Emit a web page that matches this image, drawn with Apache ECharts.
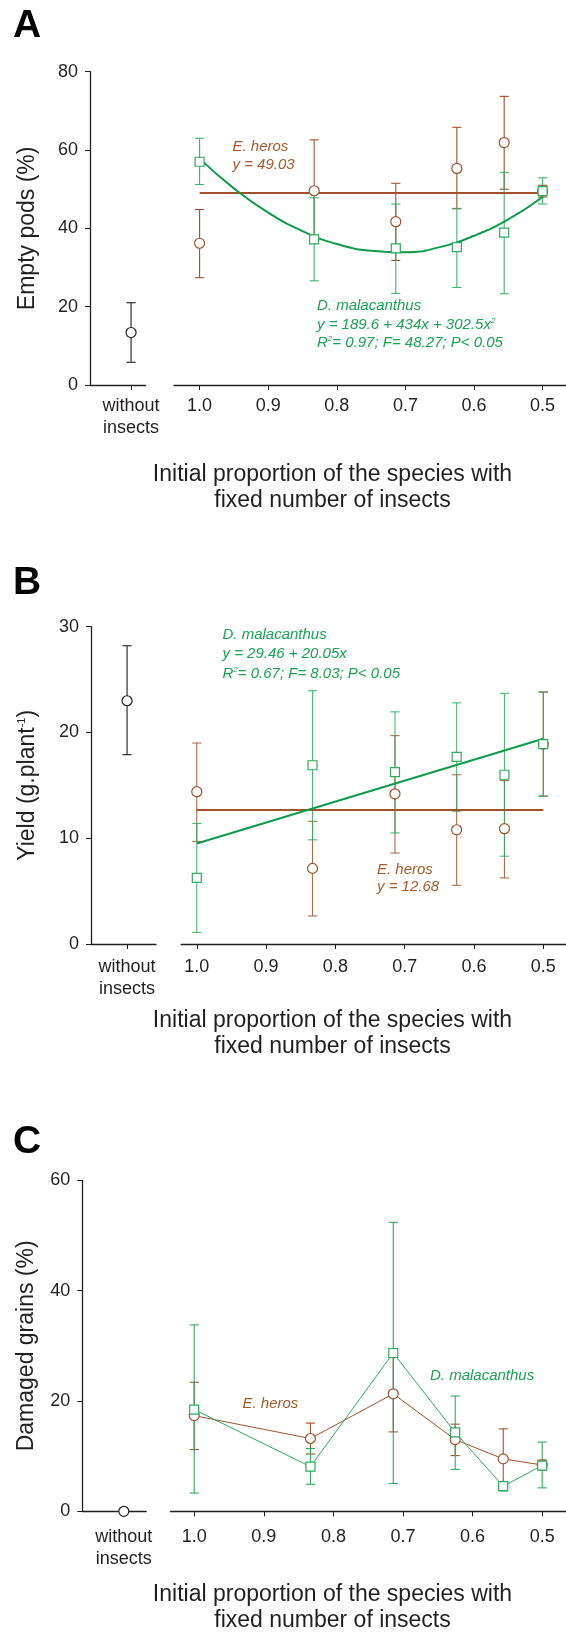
<!DOCTYPE html>
<html>
<head>
<meta charset="utf-8">
<script src="https://cdn.jsdelivr.net/npm/echarts@6/dist/echarts.min.js"></script>
<style>
html,body{margin:0;padding:0;background:#fff;}
#chart{width:566px;height:1632px;}
</style>
</head>
<body>
<div id="chart"></div>
<script>
// ---------------- DATA ----------------
const proportions = [1.0, 0.833, 0.714, 0.625, 0.556, 0.5];
const xTickValues = [1.0, 0.9, 0.8, 0.7, 0.6, 0.5];
const withoutLabel = 'without\ninsects';

// Panel A: Empty pods (%)
const podsWithout = [13.4], podsWithoutLo = [5.8], podsWithoutHi = [21.0];
const podsHeros   = [36.2, 49.6, 41.7, 55.3, 61.9, 49.5];
const podsHerosLo = [27.4, 36.6, 31.8, 45.0, 50.0, 48.0];
const podsHerosHi = [44.8, 62.6, 51.5, 65.8, 73.7, 51.0];
const podsMala    = [57.0, 37.2, 34.9, 35.2, 38.9, 49.5];
const podsMalaLo  = [51.2, 26.6, 23.4, 24.9, 23.3, 46.2];
const podsMalaHi  = [63.0, 47.8, 46.2, 45.1, 54.3, 52.9];
const podsHerosFit = 49.03;
const podsMalaFitX = [1.0, 0.95, 0.9, 0.85, 0.8, 0.75, 0.7, 0.65, 0.6, 0.55, 0.5];
const podsMalaFitY = [57.8, 50.2, 44.0, 39.3, 36.0, 34.3, 33.9, 35.2, 38.1, 42.3, 48.0];

// Panel B: Yield (g.plant-1)
const yieldWithout = [23.0], yieldWithoutLo = [17.9], yieldWithoutHi = [28.2];
const yieldHeros   = [14.4, 7.15, 14.2, 10.8, 10.9, 18.9];
const yieldHerosLo = [9.7, 2.65, 8.6, 5.55, 6.25, 14.0];
const yieldHerosHi = [19.0, 11.6, 19.7, 16.0, 15.45, 23.8];
const yieldMala    = [6.25, 16.9, 16.25, 17.7, 16.0, 18.9];
const yieldMalaLo  = [1.1, 9.85, 10.5, 12.55, 8.3, 13.95];
const yieldMalaHi  = [11.4, 23.95, 21.95, 22.8, 23.7, 23.85];
const yieldHerosFit = 12.68;
const yieldMalaFitX = [1.0, 0.5];
const yieldMalaFitY = [9.5, 19.4];

// Panel C: Damaged grains (%)
const grainsWithout = [0];
const grainsHeros   = [17.35, 13.2, 21.3, 13.0, 9.5, 8.4];
const grainsHerosLo = [11.2, 10.4, 14.4, 10.1, 4.5, 7.5];
const grainsHerosHi = [23.4, 16.0, 28.2, 15.8, 14.95, 9.3];
const grainsMala    = [18.45, 8.1, 28.7, 14.3, 4.55, 8.3];
const grainsMalaLo  = [3.3, 4.9, 5.05, 7.6, 3.7, 4.25];
const grainsMalaHi  = [33.8, 11.4, 52.4, 20.9, 5.2, 12.55];

// Text
const yNameA = 'Empty pods (%)';
const yNameB = '{a|Yield (g.plant}{s|-1}{a|)}';
const yNameC = 'Damaged grains (%)';
const xTitle1 = 'Initial proportion of the species with';
const xTitle2 = 'fixed number of insects';

// ---------------- STYLE ----------------
const FONT = '"Liberation Sans", Arial, Helvetica, sans-serif';
const INK = '#231f20';
const BROWN = '#a0522d';
const BROWN_TXT = '#a65a2c';
const GREEN = '#0f9b4c';
const GREEN_MK = '#2eab5f';
const GREEN_TXT = '#1aa253';

const panels = [
  { key:'A', top:71.7, h:313.3, yMax:80, yInt:20, lx:90, lw:55.5, lmin:-0.74, lmax:0.26,
    rx:174, rmin:0.4659, rmax:1.0373, lblMargin:10, nameGap:51, yName:yNameA },
  { key:'B', top:626.7, h:317.3, yMax:30, yInt:10, lx:91, lw:65, lmin:-0.555, lmax:0.445,
    rx:181.2, rmin:0.4672, rmax:1.0225, lblMargin:12.5, nameGap:52, yName:yNameB },
  { key:'C', top:1180.4, h:330.9, yMax:60, yInt:20, lx:82.3, lw:63.9, lmin:-0.65, lmax:0.35,
    rx:170.4, rmin:0.4658, rmax:1.0342, lblMargin:15, nameGap:44, yName:yNameC }
];

const grids = [], xAxes = [], yAxes = [];
panels.forEach((p, i) => {
  grids.push({ left:p.lx, top:p.top, width:p.lw, height:p.h, containLabel:false, outerBoundsMode:'none' });
  grids.push({ left:p.rx, top:p.top, width:566 - p.rx, height:p.h, containLabel:false, outerBoundsMode:'none' });
  const lblStyle = { fontFamily:FONT, fontSize:18, color:INK, lineHeight:22, margin:p.lblMargin };
  xAxes.push({
    type:'value', gridIndex:2*i, min:p.lmin, max:p.lmax,
    axisLine:{ show:true, onZero:false, lineStyle:{ color:INK, width:1.3 } },
    axisTick:{ show:true, length:5, customValues:[0], lineStyle:{ color:INK, width:1 } },
    axisLabel:Object.assign({ customValues:[0], formatter:() => withoutLabel }, lblStyle),
    splitLine:{ show:false }
  });
  xAxes.push({
    type:'value', gridIndex:2*i+1, min:p.rmin, max:p.rmax, inverse:true,
    axisLine:{ show:true, onZero:false, lineStyle:{ color:INK, width:1.3 } },
    axisTick:{ show:true, length:5, customValues:xTickValues, lineStyle:{ color:INK, width:1 } },
    axisLabel:Object.assign({ customValues:xTickValues, formatter:v => Number(v).toFixed(1) }, lblStyle),
    splitLine:{ show:false }
  });
  yAxes.push({
    type:'value', gridIndex:2*i, min:0, max:p.yMax, interval:p.yInt,
    axisLine:{ show:true, onZero:false, lineStyle:{ color:INK, width:1.3 } },
    axisTick:{ show:true, length:5, lineStyle:{ color:INK, width:1 } },
    axisLabel:{ fontFamily:FONT, fontSize:18, color:INK, margin:12 },
    splitLine:{ show:false },
    name:p.yName, nameLocation:'middle', nameRotate:90, nameGap:p.nameGap,
    nameTextStyle:{ fontFamily:FONT, fontSize:23, color:INK,
      rich:{ a:{ fontFamily:FONT, fontSize:23, color:INK }, s:{ fontFamily:FONT, fontSize:11, color:INK, verticalAlign:'top' } } }
  });
  yAxes.push({ type:'value', gridIndex:2*i+1, min:0, max:p.yMax, show:false });
});

function triples(xs, lo, hi) { return xs.map((x, k) => [x, lo[k], hi[k]]); }
function pairs(xs, ys) { return xs.map((x, k) => [x, ys[k]]); }

function errBars(ai, data, color, opacity) {
  return {
    type:'custom', xAxisIndex:ai, yAxisIndex:ai, data:data, clip:false, z:2,
    encode:{ x:0, y:[1,2] }, silent:true,
    renderItem:function(params, api) {
      const x = api.value(0);
      const a = api.coord([x, api.value(1)]);
      const b = api.coord([x, api.value(2)]);
      const st = { stroke:color, lineWidth:1.1, opacity:opacity };
      const c = 4.6;
      return { type:'group', children:[
        { type:'line', shape:{ x1:a[0], y1:a[1], x2:b[0], y2:b[1] }, style:st },
        { type:'line', shape:{ x1:a[0]-c, y1:a[1], x2:a[0]+c, y2:a[1] }, style:st },
        { type:'line', shape:{ x1:b[0]-c, y1:b[1], x2:b[0]+c, y2:b[1] }, style:st }
      ]};
    }
  };
}
function markers(ai, data, symbol, size, color) {
  return { type:'scatter', xAxisIndex:ai, yAxisIndex:ai, data:data, symbol:symbol, symbolSize:size, z:5,
    itemStyle:{ color:'#fff', borderColor:color, borderWidth:1.2, opacity:1 }, silent:true };
}
function fitLine(ai, data, color, width, smooth) {
  return { type:'line', xAxisIndex:ai, yAxisIndex:ai, data:data, showSymbol:false, symbol:'none',
    smooth:smooth ? 0.5 : false, lineStyle:{ color:color, width:width }, z:3, silent:true };
}

const series = [];
// Panel A
series.push(errBars(0, triples([0], podsWithoutLo, podsWithoutHi), INK, 1));
series.push(markers(0, pairs([0], podsWithout), 'circle', 10, INK));
series.push(errBars(1, triples(proportions, podsHerosLo, podsHerosHi), BROWN, 1));
series.push(errBars(1, triples(proportions, podsMalaLo, podsMalaHi), GREEN_MK, 0.9));
series.push(fitLine(1, [[proportions[0], podsHerosFit], [proportions[5], podsHerosFit]], BROWN, 2, false));
series.push(fitLine(1, pairs(podsMalaFitX, podsMalaFitY), GREEN, 2, true));
series.push(markers(1, pairs(proportions, podsHeros), 'circle', 10, BROWN));
series.push(markers(1, pairs(proportions, podsMala), 'rect', 9, GREEN_MK));
// Panel B
series.push(errBars(2, triples([0], yieldWithoutLo, yieldWithoutHi), INK, 1));
series.push(markers(2, pairs([0], yieldWithout), 'circle', 10, INK));
series.push(errBars(3, triples(proportions, yieldHerosLo, yieldHerosHi), BROWN, 0.85));
series.push(errBars(3, triples(proportions, yieldMalaLo, yieldMalaHi), GREEN_MK, 0.85));
series.push(fitLine(3, [[proportions[0], yieldHerosFit], [proportions[5], yieldHerosFit]], BROWN, 2, false));
series.push(fitLine(3, pairs(yieldMalaFitX, yieldMalaFitY), GREEN, 2, false));
series.push(markers(3, pairs(proportions, yieldHeros), 'circle', 10, BROWN));
series.push(markers(3, pairs(proportions, yieldMala), 'rect', 9, GREEN_MK));
// Panel C
series.push(markers(4, pairs([0], grainsWithout), 'circle', 10, INK));
series.push(errBars(5, triples(proportions, grainsHerosLo, grainsHerosHi), BROWN, 1));
series.push(errBars(5, triples(proportions, grainsMalaLo, grainsMalaHi), GREEN_MK, 1));
series.push({ type:'line', xAxisIndex:5, yAxisIndex:5, data:pairs(proportions, grainsHeros), symbol:'circle', symbolSize:10,
  showSymbol:true, lineStyle:{ color:BROWN, width:1 }, itemStyle:{ color:'#fff', borderColor:BROWN, borderWidth:1.2 }, z:4, silent:true });
series.push({ type:'line', xAxisIndex:5, yAxisIndex:5, data:pairs(proportions, grainsMala), symbol:'rect', symbolSize:9,
  showSymbol:true, lineStyle:{ color:GREEN_MK, width:1 }, itemStyle:{ color:'#fff', borderColor:GREEN_MK, borderWidth:1.2 }, z:5, silent:true });

// ---------------- TEXT GRAPHICS ----------------
function txt(x, y, text, font, fill, align) {
  return { type:'text', x:x, y:y, z:100, silent:true,
    style:{ text:text, font:font, fill:fill, textAlign:align || 'left', textVerticalAlign:'middle' } };
}
function richTxt(x, y, text, fill) {
  return { type:'text', x:x, y:y, z:100, silent:true,
    style:{ text:text, textAlign:'left', textVerticalAlign:'middle',
      rich:{ i:{ fontFamily:FONT, fontStyle:'italic', fontSize:15, fill:fill, color:fill },
             s:{ fontFamily:FONT, fontStyle:'italic', fontSize:8, fill:fill, color:fill, verticalAlign:'top' } } } };
}
const ITAL = 'italic 15px ' + FONT;
const BIG = 'bold 39px ' + FONT;
const TITLE = '23px ' + FONT;
const graphics = [
  txt(13, 26, 'A', BIG, '#000'),
  txt(13, 583, 'B', BIG, '#000'),
  txt(13, 1142, 'C', BIG, '#000'),
  // Panel A annotations
  txt(232.5, 146.5, 'E. heros', ITAL, BROWN_TXT),
  txt(232.5, 164.5, 'y = 49.03', ITAL, BROWN_TXT),
  txt(317, 306, 'D. malacanthus', ITAL, GREEN_TXT),
  richTxt(317, 324.5, '{i|y = 189.6 + 434x + 302.5x}{s|2}', GREEN_TXT),
  richTxt(317, 342.5, '{i|R}{s|2}{i|= 0.97; F= 48.27; P< 0.05}', GREEN_TXT),
  // Panel B annotations
  txt(222.5, 635, 'D. malacanthus', ITAL, GREEN_TXT),
  txt(222.5, 653.5, 'y = 29.46 + 20.05x', ITAL, GREEN_TXT),
  richTxt(222.5, 673.5, '{i|R}{s|2}{i|= 0.67; F= 8.03; P< 0.05}', GREEN_TXT),
  txt(377, 870, 'E. heros', ITAL, BROWN_TXT),
  txt(377, 886.5, 'y = 12.68', ITAL, BROWN_TXT),
  // Panel C annotations
  txt(242.5, 1404, 'E. heros', ITAL, BROWN_TXT),
  txt(430, 1376, 'D. malacanthus', ITAL, GREEN_TXT),
  // x titles
  txt(332.5, 475, xTitle1, TITLE, INK, 'center'),
  txt(332.5, 501, xTitle2, TITLE, INK, 'center'),
  txt(332.5, 1021, xTitle1, TITLE, INK, 'center'),
  txt(332.5, 1047, xTitle2, TITLE, INK, 'center'),
  txt(332.5, 1594.5, xTitle1, TITLE, INK, 'center'),
  txt(332.5, 1620.5, xTitle2, TITLE, INK, 'center')
];

const chart = echarts.init(document.getElementById('chart'), null, { renderer:'canvas' });
chart.setOption({
  animation:false,
  backgroundColor:'#fff',
  grid:grids, xAxis:xAxes, yAxis:yAxes, series:series, graphic:graphics
});
</script>
</body>
</html>
